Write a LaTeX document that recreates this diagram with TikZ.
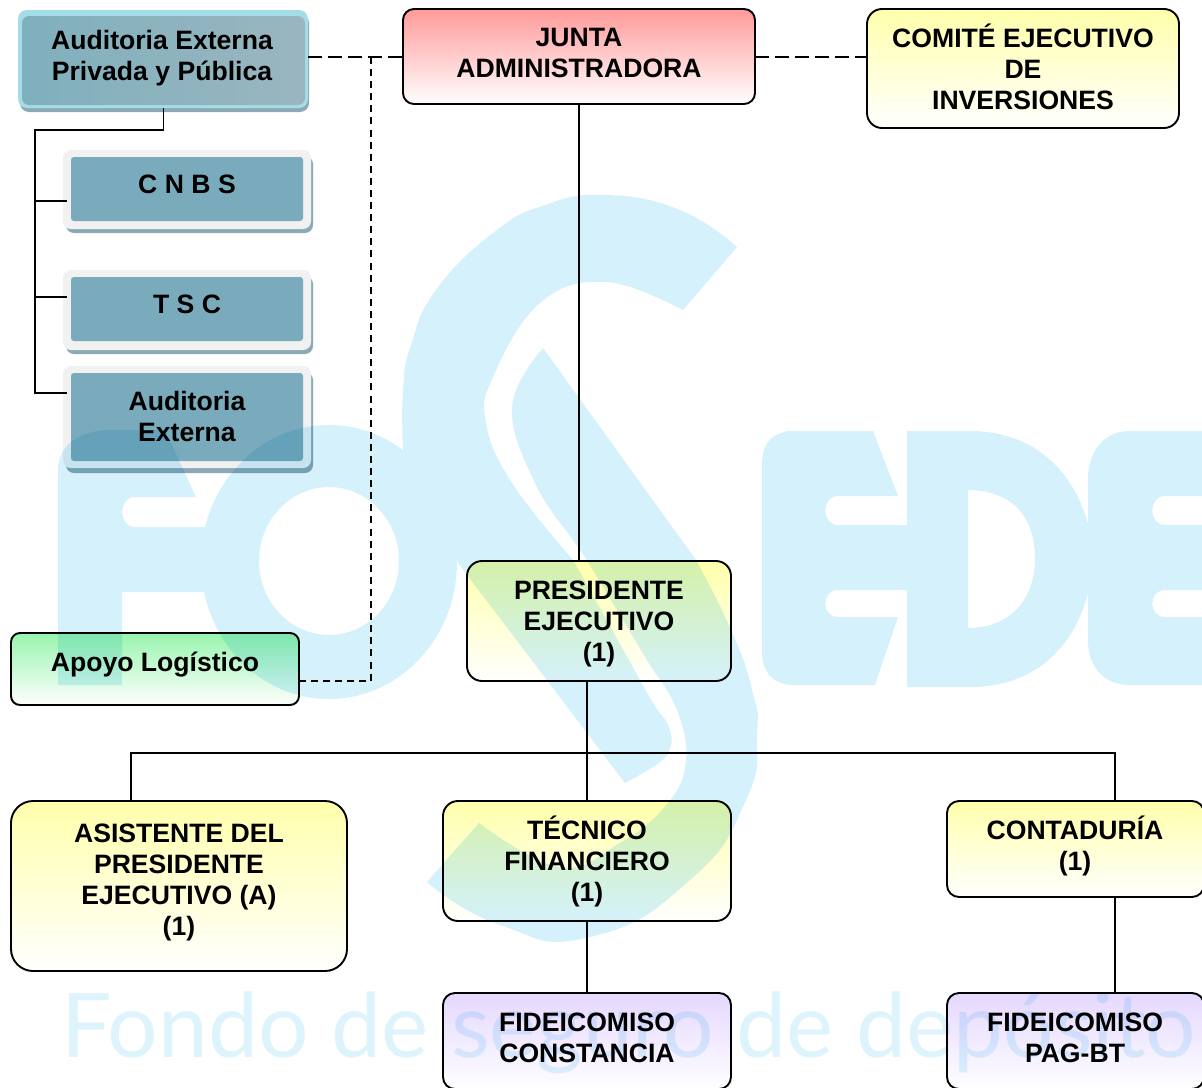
\documentclass[tikz,border=0pt]{standalone}
\usepackage{fontspec}
\usepackage{graphicx}
\setmainfont{Liberation Sans}
\newfontfamily\wmfont{Lato}
\usetikzlibrary{fadings}
\tikzfading[name=fadedown, top color=transparent!0, bottom color=transparent!100]
\definecolor{wmblue}{HTML}{D4F1FC}
\definecolor{wmword}{HTML}{DDF4FC}
\definecolor{gyellow}{HTML}{FFFFAC}
\definecolor{gred}{HTML}{FF9A9A}
\definecolor{ggreen}{HTML}{98F5AE}
\definecolor{gpurple}{HTML}{E6D8FF}
\definecolor{tealbox}{HTML}{7AABBC}
\definecolor{panelgrey}{HTML}{F1F1F1}
\definecolor{shadowteal}{HTML}{8BAAB6}
\definecolor{glowcyan}{HTML}{A4DCE8}
\definecolor{audleft}{HTML}{7FB0BD}
\definecolor{audmid}{HTML}{ABC0C8}
\definecolor{audright}{HTML}{9AB6C0}
\newcommand{\bx}[6]{%
  \pgfmathsetmacro{\bxcx}{(#3+#5)/2}%
  \pgfmathsetmacro{\bxcy}{(#4+#6)/2}%
  \pgfmathsetmacro{\bxw}{#5-#3}%
  \pgfmathsetmacro{\bxh}{#6-#4}%
  \node[#2,minimum width=\bxw pt,minimum height=\bxh pt] (#1) at (\bxcx,\bxcy) {};}
% faded fill first, then the outline that keeps its full strength
\newcommand{\gbx}[7]{%
  \bx{#1fill}{basebox,rounded corners=#3pt,fill=#2,path fading=fadedown}{#4}{#5}{#6}{#7}%
  \bx{#1}{basebox,rounded corners=#3pt,draw=black,line width=1.9pt}{#4}{#5}{#6}{#7}}
\tikzset{
  basebox/.style={rectangle,inner sep=0pt,outer sep=0pt},
  plate/.style={basebox,rounded corners=8pt,fill=panelgrey},
  plateshadow/.style={basebox,rounded corners=8pt,fill=shadowteal},
  tealface/.style={basebox,rounded corners=3pt,fill=tealbox},
  lbl/.style={font=\fontsize{26.6}{31}\selectfont\bfseries,align=center,inner sep=0pt,text=black},
  wm/.style={fill=wmblue,draw=none},
  conn/.style={draw=black,line width=1.8pt},
  longdash/.style={draw=black,line width=1.9pt,dash pattern=on 14pt off 6pt},
  shortdash/.style={draw=black,line width=1.6pt,dash pattern=on 7pt off 5.09pt}
}
\begin{document}
\begin{tikzpicture}[x=1pt,y=-1pt]
\useasboundingbox (0,0) rectangle (1202,1087);
\fill[white] (0,0) rectangle (1202,1087);
% ---- watermark: F
\fill[wm] (58,685) -- (58,470) .. controls (58,445) and (80,430) .. (111,430) -- (165,430) -- (196,497)
  -- (135,497) .. controls (118,497) and (118,527) .. (135,527) -- (240,527) -- (240,592) -- (122,592) -- (122,685) -- cycle;
% watermark: O
\fill[wm,even odd rule] (329,562) ellipse [x radius=128,y radius=137] (329,561) ellipse [x radius=70,y radius=74];
% watermark: S, upper stroke
\fill[wm] plot[smooth,tension=0.8] coordinates {(737,247)(680,210)(606,195)(545,205)(493,233)(436,290)(411,345)(403,390)(403,450)}
  -- (445,530) -- (458,563) -- (625,783)
  -- plot[smooth,tension=0.7] coordinates {(625,783)(660,762)(671,745)(668,725)(653,703)(630,662)}
  -- (573,560)
  -- plot[smooth,tension=0.7] coordinates {(573,560)(512,483)(486,423)(493,377)(540,303)(606,282)(683,310)}
  -- cycle;
% watermark: S, lower stroke
\fill[wm] (543,348) -- (696,560)
  -- plot[smooth,tension=0.9] coordinates {(696,560)(731,630)(752,690)(757,735)(746,800)(690,880)(590,937)(500,925)(427,882)}
  -- (479,823)
  -- plot[smooth,tension=0.7] coordinates {(479,823)(559,867)(620,843)(668,803)(686,760)(677,710)(653,670)}
  -- (585,557)
  -- plot[smooth,tension=0.7] coordinates {(585,557)(573,540)(535,483)(512,407)(543,348)}
  -- cycle;
% watermark: E
\fill[wm] (785,431) -- (873,431) -- (898,496) -- (838,496) .. controls (821,496) and (821,525) .. (838,525) -- (920,525)
  -- (920,590) -- (838,590) .. controls (821,590) and (821,617) .. (838,617) -- (898,617) -- (875,685) -- (795,685)
  .. controls (772,685) and (762,672) .. (762,650) -- (762,465) .. controls (762,443) and (772,431) .. (795,431) -- cycle;
% watermark: D
\fill[wm,even odd rule] (907,431) -- (970,431) .. controls (1040,431) and (1087,480) .. (1094,558)
  .. controls (1087,640) and (1040,687) .. (970,687) -- (907,687) -- cycle
  (968,490) -- (968,628) .. controls (1010,628) and (1035,600) .. (1035,558) .. controls (1035,515) and (1010,490) .. (968,490) -- cycle;
% watermark: E, second
\fill[wm] (1202,431) -- (1130,431) .. controls (1105,431) and (1088,450) .. (1088,480) -- (1088,640)
  .. controls (1088,668) and (1105,685) .. (1130,685) -- (1202,685) -- (1202,617) -- (1165,617)
  .. controls (1148,617) and (1148,590) .. (1165,590) -- (1202,590) -- (1202,525) -- (1165,525)
  .. controls (1148,525) and (1148,496) .. (1165,496) -- (1202,496) -- cycle;
% watermark: words
\node[anchor=base west,inner sep=0pt,text=wmword] (wmtext) at (61,1057) {\resizebox{1135pt}{!}{\wmfont\fontsize{93}{100}\selectfont Fondo de seguro de depósito}};

% ---- boxes, multiplied over the watermark
\begin{scope}[blend mode=multiply]
  \begin{scope}[transparency group]
    \begin{scope}[blend mode=normal]
      \bx{audshadow}{basebox,rounded corners=9pt,fill=shadowteal}{20}{14}{309}{112}
      \bx{audglow}{basebox,rounded corners=9pt,fill=glowcyan}{18}{10}{308}{108}
      \bx{aud}{basebox,rounded corners=7pt,left color=audleft,middle color=audmid,right color=audright}{22}{16}{305}{105}

      \bx{cnbsshadow}{plateshadow}{66}{156}{313}{233}
      \bx{cnbs}{plate}{63}{150}{311}{229}
      \bx{cnbsface}{tealface}{71}{157}{303}{221}

      \bx{tscshadow}{plateshadow}{66}{276}{313}{354}
      \bx{tsc}{plate}{63}{270}{311}{350}
      \bx{tscface}{tealface}{71}{277}{303}{341}

      \bx{audextshadow}{plateshadow}{66}{372}{313}{473}
      \bx{audext}{plate}{63}{366}{311}{468}
      \bx{audextface}{tealface}{71}{373}{303}{461}
    \end{scope}
  \end{scope}

  \gbx{junta}{gred}{11}{403}{9}{755}{104}
  \gbx{comite}{gyellow}{15}{867}{9}{1179}{128}
  \gbx{pres}{gyellow}{15}{467}{561}{731}{681}
  \gbx{apoyo}{ggreen}{9}{11}{633}{299}{705}
  \gbx{asis}{gyellow}{22}{11}{801}{347}{971}
  \gbx{tec}{gyellow}{15}{443}{801}{731}{921}
  \gbx{cont}{gyellow}{12}{947}{801}{1204}{897}
  \gbx{fidc}{gpurple}{12}{443}{993}{731}{1089}
  \gbx{fidp}{gpurple}{12}{947}{993}{1204}{1089}
\end{scope}

% ---- connectors
\coordinate (tr0) at (35,130);
\coordinate (tr1) at (35,201);
\coordinate (tr2) at (35,297);
\coordinate (tr3) at (35,393);
\coordinate (dashcorner) at (371,57);
\coordinate (busL) at (131,753);
\coordinate (busR) at (1115,753);
\draw[conn] (aud.south |- audglow.south) -- (aud.south |- tr0) -- (tr0) -- (tr3) -- ([xshift=4pt]audext.west |- tr3);
\draw[conn] (tr1) -- ([xshift=4pt]cnbs.west |- tr1);
\draw[conn] (tr2) -- ([xshift=4pt]tsc.west |- tr2);
\draw[longdash] (audglow.east |- dashcorner) -- (junta.west |- dashcorner);
\draw[longdash] (junta.east |- dashcorner) -- (comite.west |- dashcorner);
\draw[shortdash] (dashcorner) -- (dashcorner |- pres.south) -- (apoyo.east |- pres.south);
\draw[conn] (junta.south) -- (junta.south |- pres.north);
\draw[conn] (tec.north |- pres.south) -- (tec.north);
\draw[conn] (busL |- asis.north) -- (busL) -- (busR) -- (busR |- cont.north);
\draw[conn] (tec.south) -- (fidc.north);
\draw[conn] (busR |- cont.south) -- (busR |- fidp.north);

% ---- labels
\node[lbl] (audT) at (162,58) {Auditoria Externa\\Privada y Pública};
\node[lbl] (cnbsT) at (187,184) {C N B S};
\node[lbl] (tscT) at (187,304) {T S C};
\node[lbl] (audextT) at (187,416) {Auditoria\\Externa};
\node[lbl] (juntaT) at (579,53) {JUNTA\\ADMINISTRADORA};
\node[lbl] (comiteT) at (1023,67) {COMITÉ EJECUTIVO\\DE\\INVERSIONES};
\node[lbl] (presT) at (599,624) {PRESIDENTE\\EJECUTIVO\\(1)};
\node[lbl] (apoyoT) at (155,665) {Apoyo Logístico};
\node[lbl] (asisT) at (179,882) {ASISTENTE DEL\\PRESIDENTE\\EJECUTIVO (A)\\(1)};
\node[lbl] (tecT) at (587,861) {TÉCNICO\\FINANCIERO\\(1)};
\node[lbl] (contT) at (1075,846) {CONTADURÍA\\(1)};
\node[lbl] (fidcT) at (587,1038) {FIDEICOMISO\\CONSTANCIA};
\node[lbl] (fidpT) at (1075,1038) {FIDEICOMISO\\PAG-BT};
\end{tikzpicture}
\end{document}
